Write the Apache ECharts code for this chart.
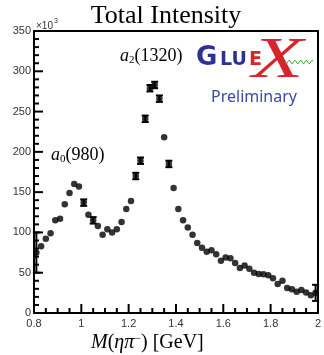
<!DOCTYPE html>
<html><head><meta charset="utf-8">
<script src="https://cdn.jsdelivr.net/npm/echarts@6/dist/echarts.min.js"></script>
<style>html,body{margin:0;padding:0;background:#fff}#c{width:324px;height:355px}</style>
</head><body><div id="c"></div>
<script>
const mass = [0.81,0.83,0.85,0.87,0.89,0.91,0.93,0.95,0.97,0.99,
  1.01,1.03,1.05,1.07,1.09,1.11,1.13,1.15,1.17,1.19,
  1.21,1.23,1.25,1.27,1.29,1.31,1.33,1.35,1.37,1.39,
  1.41,1.43,1.45,1.47,1.49,1.51,1.53,1.55,1.57,1.59,
  1.61,1.63,1.65,1.67,1.69,1.71,1.73,1.75,1.77,1.79,
  1.81,1.83,1.85,1.87,1.89,1.91,1.93,1.95,1.97,1.99];
const intensity = [75,83,92,99,115,117,135,149,160,157,
  137,122,115,108,97,104,100,104,113,129,
  139,170,189,241,279,283,266,218,185,155,
  129,115,106,97,87,81,76,78,73,65,
  69,68,62,56,59,55,50,48.5,48,47,
  43,36,40,31,29.5,26.5,28.5,25.5,22,25];
const errors = [25,0,0,0,0,0,0,0,0,0,
  4,0,4,0,0,0,0,0,0,0,
  0,4,4,4,4,4,4,0,4,0,
  0,0,0,0,0,0,0,0,0,0,
  0,0,0,0,0,0,0,0,0,0,
  0,0,0,0,0,0,0,0,0,10];
const xMajorTicks = [0.8,1.0,1.2,1.4,1.6,1.8,2.0];
const yMajorTicks = [0,50,100,150,200,250,300,350];
const xMinorPerMajor = 4;
const yMinorPerMajor = 5;

const pts = mass.map((m,i)=>[m,intensity[i]]);
const errPts = mass.map((m,i)=>[m,intensity[i],errors[i]]).filter(d=>d[2]>0);

// tick marks: [axis (0=x,1=y), value, major(1)/minor(0)]
const tickData = [];
function addTicks(axis, majors, nMinor){
  majors.forEach((v,k)=>{
    tickData.push([axis,v,1]);
    if(k<majors.length-1){
      const step=(majors[k+1]-v)/nMinor;
      for(let j=1;j<nMinor;j++) tickData.push([axis,v+step*j,0]);
    }
  });
}
addTicks(0,xMajorTicks,xMinorPerMajor);
addTicks(1,yMajorTicks,yMinorPerMajor);

const xMin=xMajorTicks[0], xMax=xMajorTicks[xMajorTicks.length-1];
const yMin=yMajorTicks[0], yMax=yMajorTicks[yMajorTicks.length-1];

const chart = echarts.init(document.getElementById('c'));
const serif = "'Liberation Serif','DejaVu Serif',serif";
const sans = "'Liberation Sans',Arial,sans-serif";

let wave = [];
for (let i=0;i<=28;i++){ wave.push([285+i, 62+1.8*Math.sin(i*1.1)]); }

const frameAxis = (pos)=>({type:'value',position:pos,axisLine:{show:true,onZero:false,lineStyle:{color:'#000',width:2}},axisTick:{show:false},axisLabel:{show:false},splitLine:{show:false}});
chart.setOption({
  animation:false,
  grid:{left:34,right:2,top:31,bottom:42},
  xAxis:[{type:'value',min:xMin,max:xMax,interval:0.2,
    axisLine:{show:true,onZero:false,lineStyle:{color:'#000',width:2}},
    axisTick:{show:false},
    splitLine:{show:false},
    axisLabel:{margin:5,color:'#333',fontSize:11,fontFamily:sans}},
    Object.assign(frameAxis('top'),{min:xMin,max:xMax})],
  yAxis:[{type:'value',min:yMin,max:yMax,interval:50,
    axisLine:{show:true,onZero:false,lineStyle:{color:'#000',width:2}},
    axisTick:{show:false},
    splitLine:{show:false},
    axisLabel:{margin:3,color:'#333',fontSize:11,fontFamily:sans}},
    Object.assign(frameAxis('right'),{min:yMin,max:yMax})],
  series:[
    {type:'custom',data:tickData,z:5,clip:false,silent:true,renderItem:function(params,api){
      const ax=api.value(0), v=api.value(1), major=api.value(2);
      const len = major ? 9 : 5;
      const st={stroke:'#000',lineWidth:2};
      if(ax===0){
        const p=api.coord([v,yMin]);
        return {type:'line',shape:{x1:p[0],y1:p[1],x2:p[0],y2:p[1]-len},style:st};
      } else {
        const p=api.coord([xMin,v]);
        return {type:'line',shape:{x1:p[0],y1:p[1],x2:p[0]+len,y2:p[1]},style:st};
      }
    }},
    {type:'scatter',data:pts,symbol:'circle',symbolSize:6.5,itemStyle:{color:'#000'},z:3},
    {type:'custom',data:errPts,z:4,renderItem:function(params,api){
      const x=api.value(0),y=api.value(1),e=api.value(2);
      const t=api.coord([x,y+e]), b=api.coord([x,y-e]);
      const cw=3.5, st={stroke:'#000',lineWidth:2};
      return {type:'group',children:[
        {type:'line',shape:{x1:t[0],y1:t[1],x2:b[0],y2:b[1]},style:st},
        {type:'line',shape:{x1:t[0]-cw,y1:t[1],x2:t[0]+cw,y2:t[1]},style:st},
        {type:'line',shape:{x1:b[0]-cw,y1:b[1],x2:b[0]+cw,y2:b[1]},style:st}
      ]};
    }}
  ],
  graphic:[
    {type:'text',x:166,y:3,style:{text:'Total Intensity',font:"26px "+serif,fill:'#000',textAlign:'center'}},
    {type:'text',x:36,y:21,style:{text:'×10',font:"10px "+sans,fill:'#333'}},
    {type:'text',x:54,y:18,style:{text:'3',font:"7px "+sans,fill:'#333'}},
    {type:'text',x:120,y:47,style:{rich:{a:{fontFamily:serif,fontStyle:'italic',fontSize:18},s:{fontFamily:serif,fontSize:11,verticalAlign:'bottom',padding:[8,0,0,0]},n:{fontFamily:serif,fontSize:18}},text:'{a|a}{s|2}{n|(1320)}',fill:'#000'}},
    {type:'text',x:51,y:146,style:{rich:{a:{fontFamily:serif,fontStyle:'italic',fontSize:18},s:{fontFamily:serif,fontSize:11,verticalAlign:'bottom',padding:[8,0,0,0]},n:{fontFamily:serif,fontSize:18}},text:'{a|a}{s|0}{n|(980)}',fill:'#000'}},
    {type:'text',x:91,y:333,style:{rich:{i:{fontFamily:serif,fontStyle:'italic',fontSize:20},n:{fontFamily:serif,fontSize:20},s:{fontFamily:serif,fontSize:12,padding:[0,0,8,0]}},text:'{i|M}{n|(}{i|ηπ}{s|−}{n|) [GeV]}',fill:'#000'}},
    {type:'text',x:196,y:45,style:{text:'G',font:"bold 26px 'DejaVu Sans',sans-serif",fill:'#2e3192'}},
    {type:'text',x:220,y:51,style:{text:'LU',font:"bold 19px 'DejaVu Sans',sans-serif",fill:'#2e3192'}},
    {type:'text',x:249,y:51,style:{text:'E',font:"bold 19px 'DejaVu Sans',sans-serif",fill:'#d7252b'}},
    {type:'text',x:252,y:33,scaleX:1.45,style:{text:'X',font:"italic 58px "+serif,fill:'#d7252b'}},
    {type:'polyline',shape:{points:wave},style:{stroke:'#3aa335',lineWidth:1,fill:null}},
    {type:'text',x:254,y:89,style:{text:'Preliminary',font:"16px 'Noto Sans',sans-serif",fill:'#3b4aa6',textAlign:'center'}}
  ]
});
</script></body></html>
